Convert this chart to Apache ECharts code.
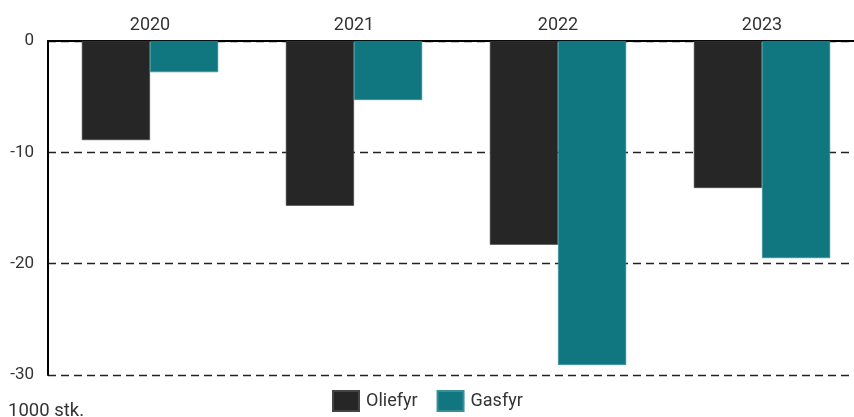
<!DOCTYPE html>
<html>
<head>
<meta charset="utf-8">
<script src="https://cdn.jsdelivr.net/npm/echarts@6/dist/echarts.min.js"></script>
<style>
  html, body { margin: 0; padding: 0; background: #fff; }
  #chart { width: 854px; height: 417px; }
</style>
</head>
<body>
<div id="chart"></div>
<script>
// Annual change in number of heating installations (1000 units)
const years = ['2020', '2021', '2022', '2023'];
const oilBoilers = [-8.9, -14.8, -18.3, -13.2];
const gasBoilers = [-2.8, -5.3, -29.1, -19.5];
const yTicks = { min: -30, max: 0, step: 10 };

const chart = echarts.init(document.getElementById('chart'), null, { renderer: 'canvas' });

chart.setOption({
  animation: false,
  textStyle: { fontFamily: 'Roboto' },
  // plot area runs slightly past the right edge of the canvas
  grid: {
    left: 48, width: 816, top: 41, bottom: 42,
    containLabel: false, outerBoundsMode: 'none'
  },
  xAxis: {
    type: 'category',
    data: years,
    position: 'top',
    axisLine: { show: true, onZero: false, lineStyle: { color: '#000', width: 2 } },
    axisTick: { show: false },
    axisLabel: { color: '#333', fontSize: 18, margin: 7 }
  },
  yAxis: {
    type: 'value',
    min: yTicks.min,
    max: yTicks.max,
    interval: yTicks.step,
    axisLine: { show: true, lineStyle: { color: '#000', width: 2 } },
    axisTick: { show: false },
    axisLabel: { color: '#333', fontSize: 17, margin: 14 },
    splitLine: {
      show: true,
      lineStyle: { color: '#222', width: 1.3, type: [8, 5] }
    }
  },
  legend: {
    top: 390,
    left: 332,
    padding: 0,
    itemWidth: 26,
    itemHeight: 20,
    itemGap: 19,
    icon: 'rect',
    textStyle: { color: '#333', fontSize: 18, fontFamily: 'Roboto', padding: [0, 0, 0, 2] },
    data: ['Oliefyr', 'Gasfyr']
  },
  graphic: [{
    type: 'text',
    left: 8,
    top: 402,
    style: { text: '1000 stk.', fill: '#333', fontSize: 18.5, fontFamily: 'Roboto' }
  }],
  series: [
    {
      name: 'Oliefyr',
      type: 'bar',
      data: oilBoilers,
      barWidth: '33.4%',
      barGap: '0%',
      itemStyle: { color: '#262626', borderColor: '#444', borderWidth: 0.6 }
    },
    {
      name: 'Gasfyr',
      type: 'bar',
      data: gasBoilers,
      barWidth: '33.4%',
      itemStyle: { color: '#107780', borderColor: '#3a8f97', borderWidth: 0.6 }
    }
  ]
});
</script>
</body>
</html>
